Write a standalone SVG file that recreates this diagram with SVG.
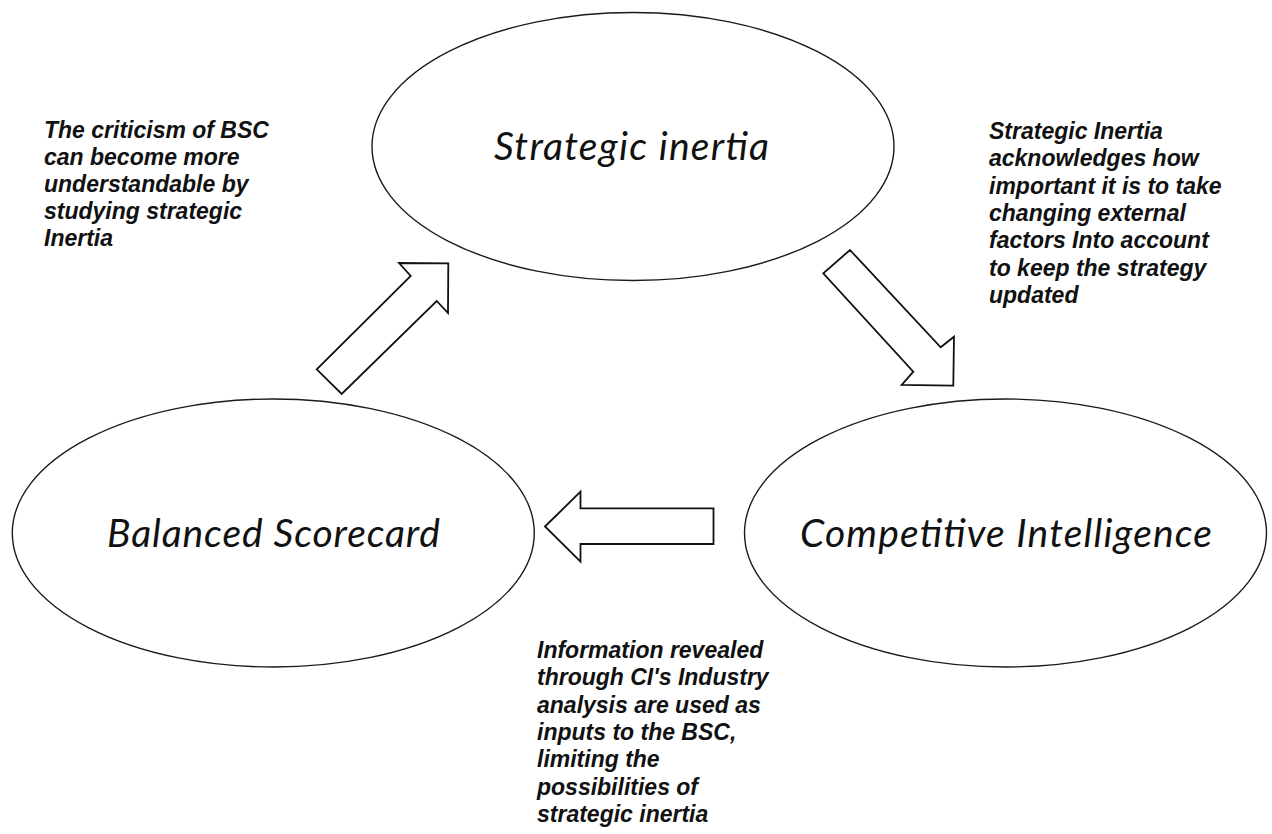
<svg xmlns="http://www.w3.org/2000/svg" width="1272" height="834" viewBox="0 0 1272 834">
  <style>
    .node { fill: #ffffff; stroke: #1a1a1a; stroke-width: 1.4; }
    .label { font-family: Lato, "Open Sans", "Noto Sans", sans-serif; font-style: italic; font-size: 39px; fill: #111111; text-anchor: middle; }
    .block { fill: #ffffff; stroke: #111111; stroke-width: 1.8; stroke-linejoin: miter; }
    .note { font-family: "Liberation Sans", Arial, sans-serif; font-style: italic; font-weight: bold; font-size: 23px; fill: #111111; }
  </style>
  <rect x="0" y="0" width="1272" height="834" fill="#ffffff"/>

  <g id="connectors">
    <polygon id="arrow-bsc-to-si" class="block" points="316.7,369.3 410.7,276 399,263 448.3,263.3 448,313 436.7,301 341.7,394"/>
    <polygon id="arrow-si-to-ci" class="block" points="850,250 940.7,347.3 954,336.7 953.3,385.7 901.7,385 913.3,371.7 823.3,273.3"/>
    <polygon id="arrow-ci-to-bsc" class="block" points="545,526.5 580.5,491.7 580.5,508.3 713.5,508.3 713.5,544 580.5,544 580.5,561.7"/>
  </g>

  <g id="node-strategic-inertia">
    <ellipse class="node" cx="633" cy="146.5" rx="261" ry="134"/>
    <text class="label" x="631.5" y="160" textLength="275">Strategic inertia</text>
  </g>

  <g id="node-balanced-scorecard">
    <ellipse class="node" cx="273.3" cy="533" rx="261" ry="134"/>
    <text class="label" x="273.5" y="547" textLength="333">Balanced Scorecard</text>
  </g>

  <g id="node-competitive-intelligence">
    <ellipse class="node" cx="1005.5" cy="533" rx="261" ry="134"/>
    <text class="label" x="1006" y="547" textLength="412">Competitive Intelligence</text>
  </g>

  <g id="note-top-left">
    <text class="note" x="44" y="138">The criticism of BSC</text>
    <text class="note" x="44" y="165">can become more</text>
    <text class="note" x="44" y="192">understandable by</text>
    <text class="note" x="44" y="219">studying strategic</text>
    <text class="note" x="44" y="246">Inertia</text>
  </g>

  <g id="note-right">
    <text class="note" x="989" y="139">Strategic Inertia</text>
    <text class="note" x="989" y="166">acknowledges how</text>
    <text class="note" x="989" y="194">important it is to take</text>
    <text class="note" x="989" y="221">changing external</text>
    <text class="note" x="989" y="248">factors Into account</text>
    <text class="note" x="989" y="276">to keep the strategy</text>
    <text class="note" x="989" y="303">updated</text>
  </g>

  <g id="note-bottom">
    <text class="note" x="537" y="658">Information revealed</text>
    <text class="note" x="537" y="685">through CI's Industry</text>
    <text class="note" x="537" y="713">analysis are used as</text>
    <text class="note" x="537" y="740">inputs to the BSC,</text>
    <text class="note" x="537" y="767">limiting the</text>
    <text class="note" x="537" y="795">possibilities of</text>
    <text class="note" x="537" y="822">strategic inertia</text>
  </g>
</svg>
